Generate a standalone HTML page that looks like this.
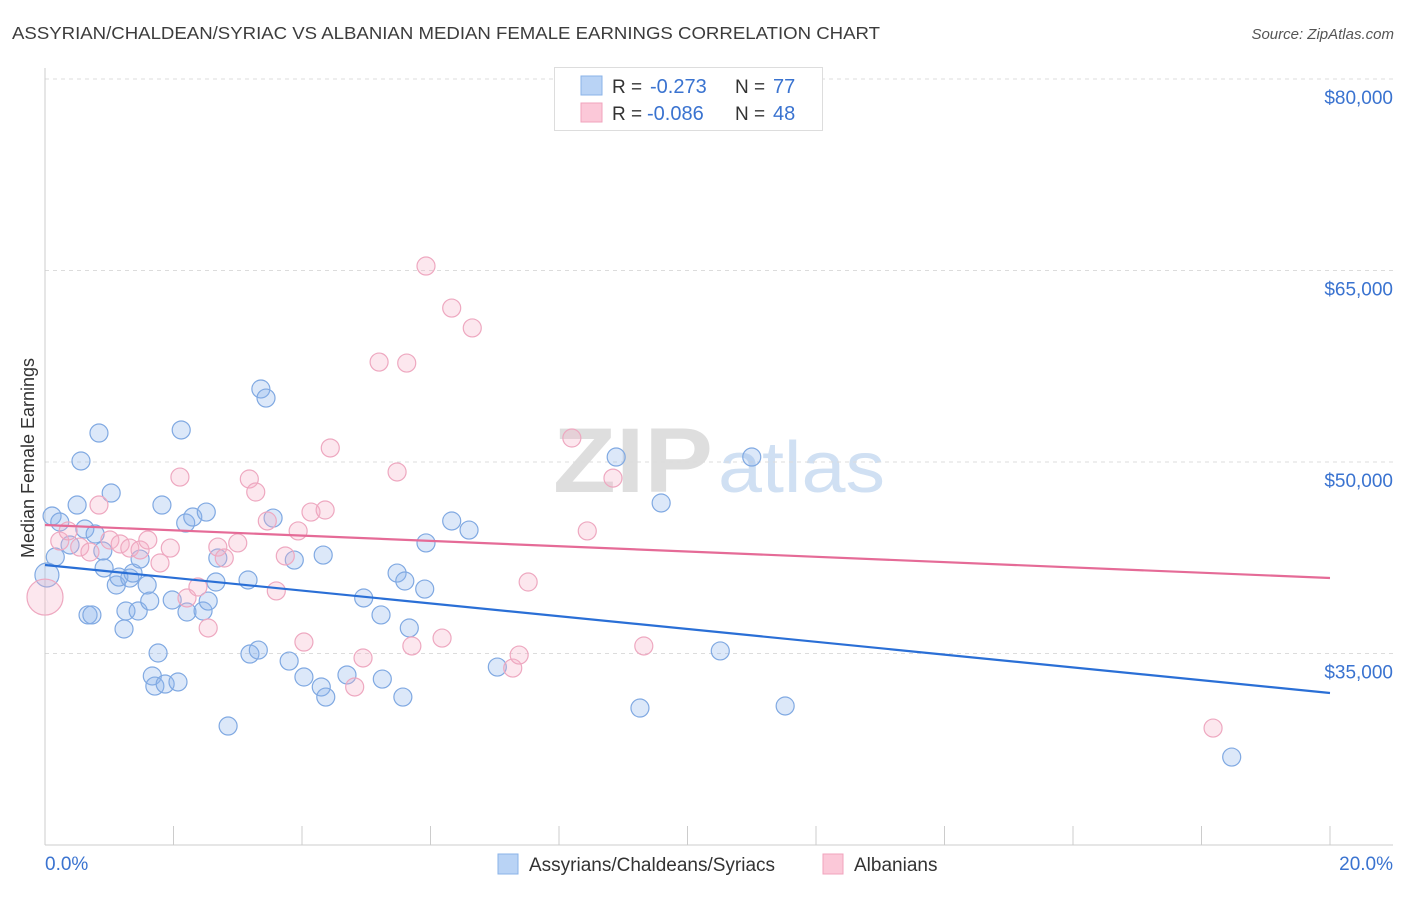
<!DOCTYPE html>
<html><head><meta charset="utf-8"><style>
body{margin:0;background:#fff;font-family:"Liberation Sans",sans-serif;}
svg text{font-family:"Liberation Sans",sans-serif;}
</style></head><body>
<svg id="chart" width="1406" height="892" viewBox="0 0 1406 892" xmlns="http://www.w3.org/2000/svg">
<text x="12" y="39" font-size="17.5" fill="#3c3c3c" textLength="868" lengthAdjust="spacingAndGlyphs">ASSYRIAN/CHALDEAN/SYRIAC VS ALBANIAN MEDIAN FEMALE EARNINGS CORRELATION CHART</text>
<text x="1394" y="39" font-size="15" fill="#555" text-anchor="end" font-style="italic">Source: ZipAtlas.com</text>
<g>
<text x="553" y="492" font-size="92" fill="#dedede" font-family="Liberation Serif" font-weight="bold" textLength="160" lengthAdjust="spacingAndGlyphs">ZIP</text>
<text x="718" y="492" font-size="72" fill="#d0e0f3" textLength="167" lengthAdjust="spacingAndGlyphs">atlas</text>
</g>
<g id="grid"></g>
<g id="axes"></g>
<g id="marks"></g>
<text transform="translate(34,458) rotate(-90)" font-size="18" fill="#333" text-anchor="middle">Median Female Earnings</text>
<g>
<rect x="554.5" y="67.5" width="268" height="63" fill="#fff" stroke="#ddd"/>
<rect x="581" y="76" width="21" height="19" fill="#b9d3f5" stroke="#8ab3e8"/>
<rect x="581" y="103" width="21" height="19" fill="#fbc8d8" stroke="#f0a3bd"/>
<text x="612" y="93" font-size="19" fill="#333">R =</text>
<text x="650" y="93" font-size="20" fill="#3a73d0">-0.273</text>
<text x="735" y="93" font-size="19" fill="#333">N =</text>
<text x="773" y="93" font-size="20" fill="#3a73d0">77</text>
<text x="612" y="120" font-size="19" fill="#333">R =</text>
<text x="647" y="120" font-size="20" fill="#3a73d0">-0.086</text>
<text x="735" y="120" font-size="19" fill="#333">N =</text>
<text x="773" y="120" font-size="20" fill="#3a73d0">48</text>
</g>
<g>
<rect x="498" y="854" width="20" height="20" fill="#b9d3f5" stroke="#8ab3e8"/>
<text x="529" y="871" font-size="19" fill="#333">Assyrians/Chaldeans/Syriacs</text>
<rect x="823" y="854" width="20" height="20" fill="#fbc8d8" stroke="#f0a3bd"/>
<text x="854" y="871" font-size="19" fill="#333">Albanians</text>
</g>
</svg>
<script>
const yTicks=[35000,50000,65000,80000];
const yTickLabels=["$35,000","$50,000","$65,000","$80,000"];
const xTickLabels=["0.0%","20.0%"];
const blueX=[0.11,0.03,0.23,0.16,0.39,0.50,0.56,0.62,0.67,0.73,0.78,0.84,0.90,0.92,1.03,1.11,1.15,1.23,1.26,1.32,1.37,1.45,1.48,1.59,1.63,1.67,1.71,1.76,1.82,1.87,1.98,2.07,2.12,2.19,2.21,2.30,2.46,2.51,2.54,2.66,2.69,2.85,3.16,3.19,3.32,3.36,3.44,3.55,3.80,3.88,4.03,4.30,4.37,4.33,4.70,4.96,5.23,5.25,5.48,5.57,5.60,5.67,5.91,5.93,6.33,6.60,7.04,8.89,9.26,9.59,10.51,11.00,11.52,18.47];
const blueY=[45770,41150,45300,42560,43500,46630,50080,44750,38020,38020,44360,52270,43030,41700,47570,40365,40990,36920,38330,40910,41300,38330,42400,40365,39110,33240,32450,35040,46630,32610,39190,32770,52510,45220,38250,45690,38330,46080,39110,40600,42480,29320,40760,34960,35270,55720,55010,45610,34410,42320,33160,32380,31590,42710,33320,39350,38020,33000,41300,31590,40680,37000,40050,43660,45380,44670,33940,50390,30730,46790,35200,50390,30890,26890];
const pinkX=[0.0,0.23,0.36,0.54,0.70,0.84,1.01,1.17,1.32,1.48,1.60,1.79,1.95,2.10,2.21,2.38,2.54,2.69,2.79,3.00,3.18,3.28,3.46,3.60,3.74,3.94,4.03,4.14,4.36,4.44,4.95,4.82,5.20,5.48,5.63,5.71,5.93,6.18,6.33,6.65,7.28,7.38,7.52,8.20,8.44,8.84,9.32,18.18];
const pinkY=[39420,43810,44600,43340,42950,46630,43890,43580,43260,43110,43890,42090,43260,48820,39350,40210,37000,43340,42480,43660,48670,47650,45380,39900,42640,44600,35900,46080,46240,51100,34650,32380,57830,49220,57750,35590,65350,36210,62060,60500,33860,34880,40600,51880,44600,48740,35590,29160];
const blueTrend=[41933,31906];
const pinkTrend=[45066,40914];
const NS='http://www.w3.org/2000/svg';
const xs=v=>45+v/20*1285;
const ys=v=>79+(80000-v)*0.012767;
function mk(tag,attrs,parent){const e=document.createElementNS(NS,tag);for(const k in attrs)e.setAttribute(k,attrs[k]);document.getElementById(parent).appendChild(e);return e;}
yTicks.forEach((t,i)=>{
 const g=mk('line',{x1:45,x2:1393,y1:ys(t),y2:ys(t),stroke:'#dcdcdc','stroke-dasharray':'4,4'},'grid');
 
 
 const l=mk('text',{x:1393,y:ys(t)+25,'font-size':19,fill:'#3a73d0','text-anchor':'end'},'axes');
 l.textContent=yTickLabels[i];
 
 
});
const ax=mk('line',{x1:45,x2:45,y1:68,y2:845,stroke:'#ccc'},'axes');


const bx=mk('line',{x1:45,x2:1393,y1:845,y2:845,stroke:'#ccc'},'axes');


for(let i=0;i<=10;i++){const t=mk('line',{x1:xs(i*2),x2:xs(i*2),y1:826,y2:845,stroke:'#ccc'},'axes');
 
 }
const xl0=mk('text',{x:45,y:870,'font-size':19,fill:'#3a73d0'},'axes');xl0.textContent=xTickLabels[0];


const xl1=mk('text',{x:1393,y:870,'font-size':19,fill:'#3a73d0','text-anchor':'end'},'axes');xl1.textContent=xTickLabels[1];


function pts(X,Y,fill,stroke,name,bigIdx,bigR){X.forEach((x,i)=>{
 const c=mk('circle',{cx:xs(x),cy:ys(Y[i]),r:i===bigIdx?bigR:9,fill:fill,stroke:stroke,'stroke-width':1.2},'marks');
 
 
});}
pts(blueX,blueY,'rgba(140,180,235,0.3)','#80a9e2','point-assyrian',1,12);
pts(pinkX,pinkY,'rgba(245,175,200,0.3)','#eea8c0','point-albanian',0,18);
const bl=mk('line',{x1:xs(0),y1:ys(blueTrend[0]),x2:xs(20),y2:ys(blueTrend[1]),stroke:'#2a6fd6','stroke-width':2.2},'marks');


const pl=mk('line',{x1:xs(0),y1:ys(pinkTrend[0]),x2:xs(20),y2:ys(pinkTrend[1]),stroke:'#e56b97','stroke-width':2.2},'marks');


</script>
</body></html>
